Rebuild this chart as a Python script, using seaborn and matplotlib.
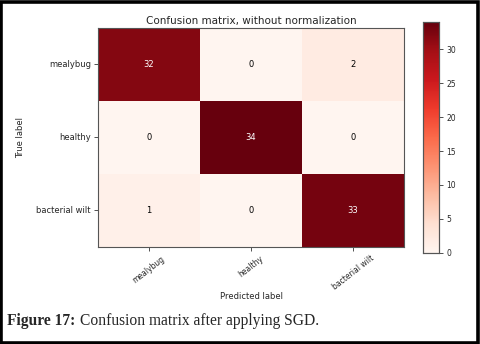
import numpy as np
import pandas as pd
import seaborn as sns
import matplotlib
matplotlib.use("Agg")
import matplotlib.pyplot as plt
from matplotlib.patches import Rectangle

classes = ["mealybug", "healthy", "bacterial wilt"]
row_mealybug = [32, 0, 2]
row_healthy = [0, 34, 0]
row_bacterial = [1, 0, 33]
cbar_ticks = [0, 5, 10, 15, 20, 25, 30]

cm = pd.DataFrame([row_mealybug, row_healthy, row_bacterial], index=classes, columns=classes)

sns.set_style("white")
plt.rcParams['font.family'] = ['DejaVu Sans']

fig = plt.figure(figsize=(4.8, 3.44), dpi=100)
ax = fig.add_axes([0.204, 0.282, 0.638, 0.637])
cax = fig.add_axes([0.881, 0.265, 0.034, 0.671])

vmax = cm.values.max()
sns.heatmap(cm, ax=ax, cbar_ax=cax, cmap="Reds", vmin=0, vmax=vmax,
            annot=False, square=False, cbar_kws={"ticks": cbar_ticks})

thresh = vmax / 2.0
for i in range(cm.shape[0]):
    for j in range(cm.shape[1]):
        v = cm.values[i, j]
        ax.text(j + 0.5, i + 0.5, f"{v:d}", ha="center", va="center", fontsize=6,
                color="white" if v > thresh else "black")

for s in ax.spines.values():
    s.set_visible(True)
    s.set_color("#555555")
    s.set_linewidth(0.8)
cax.set_frame_on(True)
for s in cax.spines.values():
    s.set_visible(True)
    s.set_color("#555555")
    s.set_linewidth(0.8)

ax.set_title("Confusion matrix, without normalization", fontsize=7.5, pad=3)
ax.set_ylabel("True label", fontsize=6, labelpad=8)
ax.set_xlabel("Predicted label", fontsize=6, labelpad=0)
ax.tick_params(axis="both", which="both", length=3, width=0.6, color="#333333",
               labelsize=6, bottom=True, left=True, pad=2)
ax.set_yticklabels(classes, rotation=0)
ax.set_xticklabels(classes, rotation=38, ha="center", fontsize=5.5)
cax.tick_params(labelsize=5.5, length=3, width=0.6, color="#333333", pad=2, right=True)

fig.add_artist(Rectangle((0.003, 0.004), 0.993, 0.99, transform=fig.transFigure,
                         fill=False, edgecolor="black", linewidth=2.6))

fig.text(0.014, 0.068, "Figure 17:", fontsize=11.2, fontweight="bold",
         family=["Liberation Serif"], ha="left", va="center")
fig.text(0.167, 0.068, "Confusion matrix after applying SGD.", fontsize=11.2,
         family=["Liberation Serif"], ha="left", va="center")

fig.savefig("out.png", dpi=100)
